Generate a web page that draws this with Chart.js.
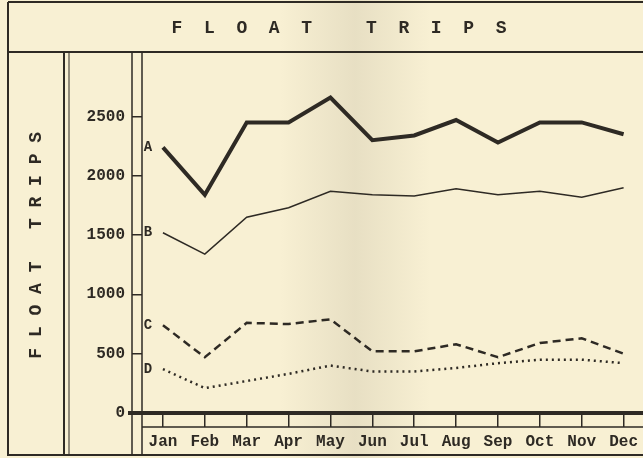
<!DOCTYPE html>
<html>
<head>
<meta charset="utf-8">
<script src="https://cdn.jsdelivr.net/npm/chart.js@4"></script>
<style>
  html, body { margin: 0; padding: 0; background: #f8f0d3; }
  canvas { display: block; }
</style>
</head>
<body>
<canvas id="chart" width="643" height="458"></canvas>
<script>
const months = ['Jan', 'Feb', 'Mar', 'Apr', 'May', 'Jun', 'Jul', 'Aug', 'Sep', 'Oct', 'Nov', 'Dec'];
const yTicks = [0, 500, 1000, 1500, 2000, 2500];
const seriesNames = ['A', 'B', 'C', 'D'];
const seriesA = [2240, 1840, 2450, 2450, 2660, 2300, 2340, 2470, 2280, 2450, 2450, 2350];
const seriesB = [1520, 1340, 1650, 1730, 1870, 1840, 1830, 1890, 1840, 1870, 1820, 1900];
const seriesC = [740, 470, 760, 750, 790, 520, 520, 580, 470, 590, 630, 500];
const seriesD = [370, 210, 270, 330, 400, 350, 350, 380, 420, 450, 450, 420];

const ink = '#2e2a24';
const mono = '"Liberation Mono", "DejaVu Sans Mono", monospace';

const toPoints = arr => arr.map((v, i) => ({ x: i, y: v }));

// paper, frame lines, heading and the A-D line tags
const framePlugin = {
  id: 'frame',
  beforeDraw(chart) {
    const { ctx, width, height } = chart;
    ctx.save();
    ctx.fillStyle = '#f8f0d3';
    ctx.fillRect(0, 0, width, height);
    const g = ctx.createLinearGradient(280, 0, 430, 0);
    g.addColorStop(0, 'rgba(120,110,90,0)');
    g.addColorStop(0.5, 'rgba(120,110,90,0.13)');
    g.addColorStop(1, 'rgba(120,110,90,0)');
    ctx.fillStyle = g;
    ctx.fillRect(280, 0, 150, height);
    ctx.restore();
  },
  afterDraw(chart) {
    const { ctx, width, chartArea } = chart;
    ctx.save();
    ctx.strokeStyle = ink;
    const line = (x1, y1, x2, y2, w) => {
      ctx.lineWidth = w;
      ctx.beginPath();
      ctx.moveTo(x1, y1);
      ctx.lineTo(x2, y2);
      ctx.stroke();
    };
    line(8, 2, width, 2, 2);
    line(8, 52, width, 52, 2);
    line(8, 455, width, 455, 2);
    line(8, 2, 8, 456, 2);
    line(64, 52, 64, 455, 2);
    line(69, 52, 69, 455, 1);
    line(132, 52, 132, 455, 1.5);
    line(chartArea.left, 52, chartArea.left, 455, 1.5);
    line(chartArea.left, 427, width, 427, 1.5);
    line(128, chartArea.bottom, width, chartArea.bottom, 4);

    ctx.fillStyle = ink;
    ctx.font = 'bold 18px ' + mono;
    ctx.textAlign = 'center';
    ctx.textBaseline = 'middle';
    ctx.fillText('F  L  O  A  T     T  R  I  P  S', 339, 28);

    ctx.font = 'bold 14px ' + mono;
    chart.data.datasets.forEach((ds, i) => {
      const pt = chart.getDatasetMeta(i).data[0];
      ctx.fillText(seriesNames[i], pt.x - 15, pt.y);
    });
    ctx.restore();
  }
};

new Chart(document.getElementById('chart'), {
  type: 'line',
  data: {
    datasets: [
      { label: 'A', data: toPoints(seriesA), borderColor: ink, borderWidth: 4 },
      { label: 'B', data: toPoints(seriesB), borderColor: ink, borderWidth: 1.5 },
      { label: 'C', data: toPoints(seriesC), borderColor: ink, borderWidth: 2.5, borderDash: [8, 5] },
      { label: 'D', data: toPoints(seriesD), borderColor: ink, borderWidth: 2.5, borderDash: [2, 4] }
    ]
  },
  options: {
    responsive: false,
    animation: false,
    devicePixelRatio: 1,
    layout: { padding: { top: 56, left: 0, right: 0, bottom: 0 }, autoPadding: false },
    elements: { point: { radius: 0 }, line: { tension: 0 } },
    plugins: { legend: { display: false }, tooltip: { enabled: false } },
    scales: {
      x: {
        type: 'linear',
        min: -0.5,
        max: 11.2,
        afterBuildTicks: s => { s.ticks = months.map((m, i) => ({ value: i })); },
        afterFit: s => { s.height = 45; },
        border: { display: false },
        grid: { drawOnChartArea: false, tickLength: 14, color: ink, lineWidth: 1.5 },
        ticks: {
          autoSkip: false, maxRotation: 0, padding: 5, color: ink,
          font: { family: mono, size: 16, weight: 'bold' },
          callback: v => months[v]
        }
      },
      y: {
        min: 0,
        max: 3010,
        afterBuildTicks: s => { s.ticks = yTicks.map(v => ({ value: v })); },
        afterFit: s => { s.width = 142; },
        border: { display: false },
        grid: { drawOnChartArea: false, tickLength: 10, color: ink, lineWidth: 1.5 },
        ticks: {
          padding: 7, color: ink,
          font: { family: mono, size: 16, weight: 'bold' },
          callback: v => String(v)
        },
        title: {
          display: true,
          text: 'F L O A T   T R I P S  ',
          color: ink,
          padding: { top: 26, bottom: 0 },
          font: { family: mono, size: 18, weight: 'bold' }
        }
      }
    }
  },
  plugins: [framePlugin]
});
</script>
</body>
</html>
